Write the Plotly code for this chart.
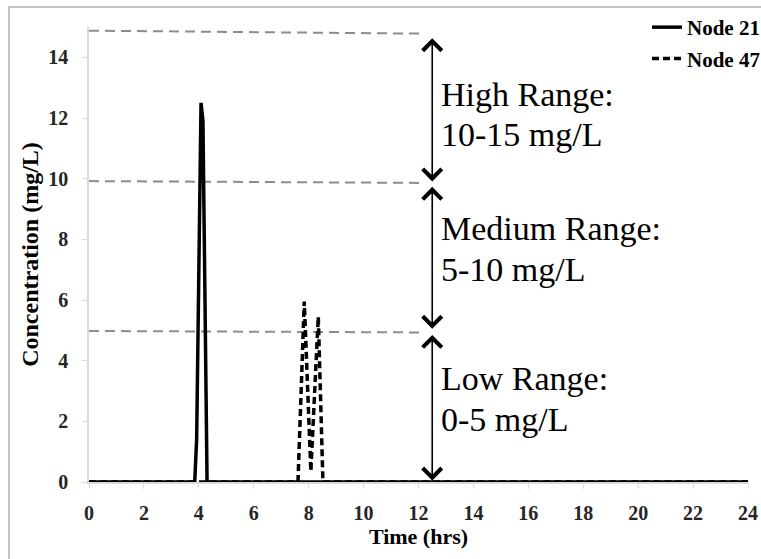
import plotly.graph_objects as go

# ---- data ----
time_node21 = [0, 3.85, 3.92, 4.08, 4.15, 4.30, 24]
conc_node21 = [0, 0, 1.4, 12.5, 11.9, 0, 0]

time_node47 = [0, 7.61, 7.84, 8.08, 8.35, 8.52, 24]
conc_node47 = [0, 0, 5.95, 0.35, 5.45, 0, 0]

x_ticks = [0, 2, 4, 6, 8, 10, 12, 14, 16, 18, 20, 22, 24]
y_ticks = [0, 2, 4, 6, 8, 10, 12, 14]

# range threshold dashed lines (left value, right value)
threshold_left = [4.98, 9.92, 14.88]
threshold_right = [4.93, 9.86, 14.78]
threshold_x_end = 12.2

# double-headed range arrows
arrow_x = 12.5
arrow_bottoms = [0, 5.0, 9.86]
arrow_tops = [4.85, 9.73, 14.63]
range_names = ["Low Range:", "Medium Range:", "High Range:"]
range_values = ["0-5 mg/L", "5-10 mg/L", "10-15 mg/L"]

# ---- layout geometry ----
W, H = 761, 559
ML, MR, MT, MB = 89, 13, 27, 77
PW, PH = W - ML - MR, H - MT - MB


def px_x(px):
    return (px - ML) / PW


def px_y(py):
    return (H - MB - py) / PH


SERIF = "Liberation Serif, DejaVu Serif, serif"

fig = go.Figure()
fig.add_trace(go.Scatter(
    x=time_node21, y=conc_node21, mode="lines", name="Node 21",
    legendgroup="a",
    line=dict(color="black", width=3.5),
))
fig.add_trace(go.Scatter(
    x=time_node47, y=conc_node47, mode="lines", name="Node 47",
    legendgroup="b",
    line=dict(color="black", width=3.5, dash="7px,4px"),
))

shapes = []
for yl, yr in zip(threshold_left, threshold_right):
    shapes.append(dict(type="line", xref="x", yref="y", x0=0, x1=threshold_x_end,
                       y0=yl, y1=yr, layer="below",
                       line=dict(color="#8c8c8c", width=2, dash="10px,6px")))
# outer border
shapes.append(dict(type="rect", xref="paper", yref="paper",
                   x0=px_x(9), x1=px_x(775), y0=px_y(575), y1=px_y(7),
                   line=dict(color="#b0b0b0", width=1.5)))

annotations = []
for y0, y1 in zip(arrow_bottoms, arrow_tops):
    annotations.append(dict(
        x=arrow_x, y=y1, ax=arrow_x, ay=y0, xref="x", yref="y",
        axref="x", ayref="y", text="", showarrow=True,
        arrowhead=4, startarrowhead=4, arrowside="end+start",
        arrowwidth=1.6, arrowsize=2.3, startarrowsize=2.3,
        arrowcolor="black",
    ))

# range labels: (name baseline px, value baseline px)
label_baselines = [(390.7, 431.7), (240, 281.7), (106, 146.7)]
label_left_px = 439
for nm, val, (b1, b2) in zip(range_names, range_values, label_baselines):
    for txt, b in ((nm, b1), (val, b2)):
        annotations.append(dict(
            x=px_x(label_left_px), y=px_y(b - 12), xref="paper", yref="paper",
            text=txt, showarrow=False, xanchor="left", yanchor="middle",
            font=dict(family=SERIF, size=34, color="black"),
        ))

fig.update_layout(
    width=W, height=H,
    margin=dict(l=ML, r=MR, t=MT, b=MB, autoexpand=False),
    paper_bgcolor="white", plot_bgcolor="white",
    showlegend=True,
    legend=dict(x=px_x(765), y=px_y(7), xanchor="right", yanchor="top",
                bgcolor="rgba(0,0,0,0)", tracegroupgap=1,
                font=dict(family=SERIF, size=21, color="black", weight="bold"),
                itemwidth=30),
    shapes=shapes,
    annotations=annotations,
    xaxis=dict(range=[0, 24], tickvals=x_ticks, showgrid=False, zeroline=False,
               showline=True, linecolor="#d9d9d9", linewidth=1.5,
               ticks="outside", ticklen=5, tickcolor="#d9d9d9",
               ticklabelstandoff=7,
               tickfont=dict(family=SERIF, size=20, color="#262626", weight="bold"),
               title=dict(text="Time (hrs)", standoff=4,
                          font=dict(family=SERIF, size=22, color="black", weight="bold"))),
    yaxis=dict(range=[0, 15], tickvals=y_ticks, showgrid=False, zeroline=False,
               showline=True, linecolor="#d9d9d9", linewidth=1.5,
               ticks="outside", ticklen=5, tickcolor="#d9d9d9",
               ticklabelstandoff=10,
               tickfont=dict(family=SERIF, size=20, color="#262626", weight="bold"),
               title=dict(text="Concentration (mg/L)", standoff=3,
                          font=dict(family=SERIF, size=24, color="black", weight="bold"))),
)

fig.write_html("out.html")
